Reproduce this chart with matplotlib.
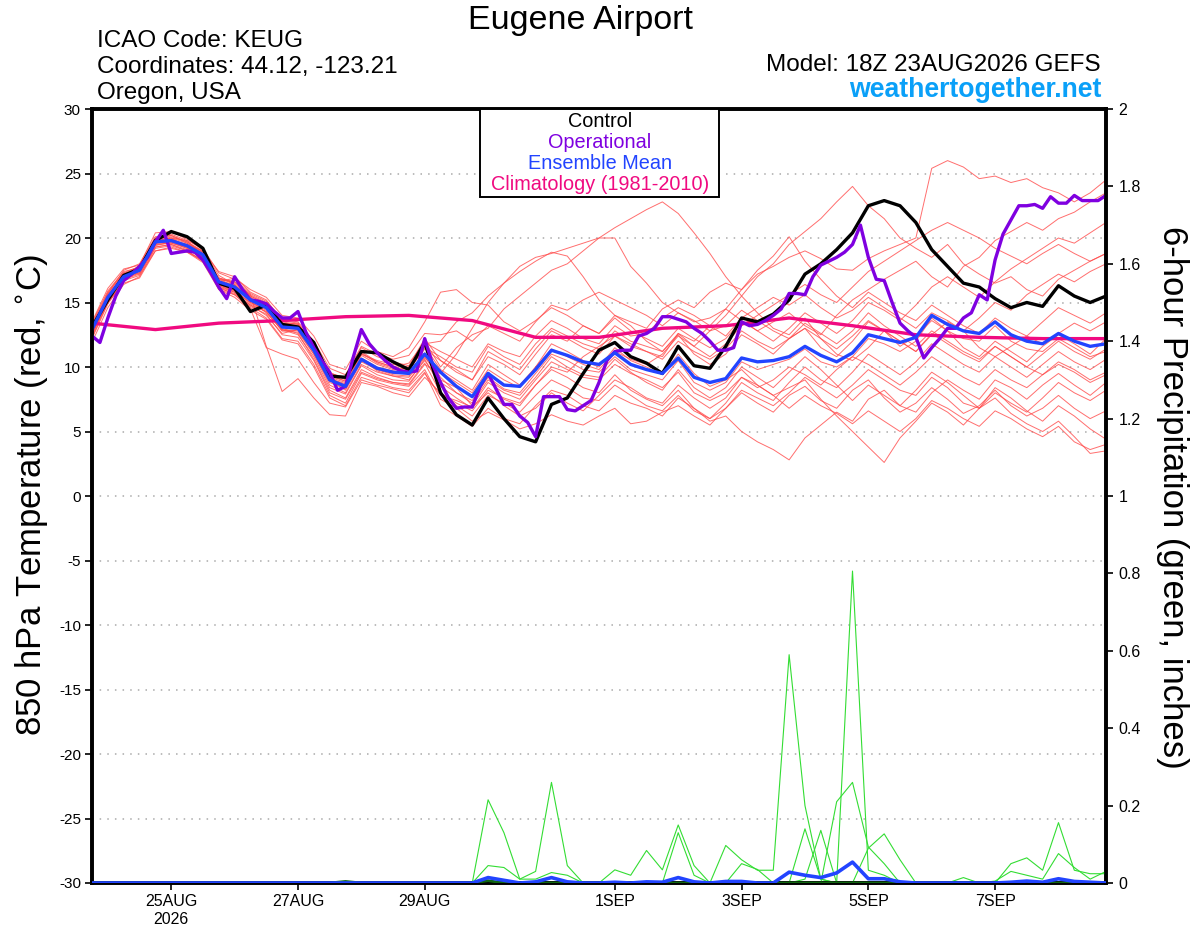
import numpy as np
import matplotlib
matplotlib.use('Agg')
import matplotlib.pyplot as plt
from matplotlib.patches import Rectangle

plt.rcParams['font.family'] = ['Liberation Sans', 'DejaVu Sans']

# ---------------- data ----------------
hours6 = np.arange(0, 385, 6)
hours3 = np.arange(0, 385, 3)
hours24 = np.arange(0, 385, 24)

control = [13.1, 15.2, 17.1, 17.6, 19.8, 20.5, 20.1, 19.2, 16.5, 16.1, 14.3, 14.8, 13.3, 13.1, 11.9, 9.3,
           9.2, 11.2, 11.1, 10.4, 9.8, 11.9, 8.0, 6.3, 5.5, 7.6, 6.0, 4.6, 4.2, 7.1, 7.6, 9.5,
           11.3, 11.9, 10.8, 10.3, 9.5, 11.6, 10.1, 9.9, 11.6, 13.8, 13.5, 14.1, 15.2, 17.2, 18.0, 19.1,
           20.4, 22.5, 22.9, 22.5, 21.2, 19.1, 17.8, 16.5, 16.2, 15.3, 14.6, 15.0, 14.7, 16.3, 15.5, 15.0, 15.5]

ens_mean = [12.9, 15.4, 17.0, 17.5, 19.7, 19.8, 19.4, 18.7, 16.6, 16.2, 15.2, 14.6, 13.1, 13.0, 11.3, 9.0,
            8.5, 10.6, 9.9, 9.6, 9.5, 11.0, 9.6, 8.5, 7.7, 9.5, 8.6, 8.5, 9.8, 11.3, 10.9, 10.4,
            10.2, 11.1, 10.2, 9.8, 9.5, 10.7, 9.2, 8.8, 9.1, 10.7, 10.4, 10.5, 10.8, 11.6, 10.9, 10.4,
            11.1, 12.5, 12.2, 11.9, 12.3, 14.0, 13.3, 12.8, 12.6, 13.5, 12.5, 12.0, 11.8, 12.6, 12.0, 11.6, 11.8]

operational = [12.4, 11.9, 13.8, 15.5, 16.7, 17.2, 17.8, 18.5, 19.7, 20.6, 18.8, 18.9, 19.0, 18.9, 18.3, 17.3,
               16.2, 15.3, 17.0, 16.0, 15.2, 15.1, 14.9, 14.3, 13.8, 13.8, 14.3, 12.7, 11.5, 10.5, 9.6, 8.2,
               8.5, 10.8, 12.9, 11.8, 11.1, 10.5, 10.0, 9.7, 9.6, 9.7, 12.2, 10.2, 8.8, 7.6, 6.8, 6.9,
               6.9, 8.5, 9.5, 8.3, 7.1, 7.1, 6.2, 5.7, 4.6, 7.7, 7.7, 7.7, 6.7, 6.6, 7.0, 7.4,
               8.8, 10.5, 11.2, 11.3, 11.3, 12.4, 12.6, 13.0, 13.9, 13.9, 13.7, 13.5, 13.0, 12.6, 12.0, 11.3,
               11.3, 11.5, 13.5, 13.2, 13.3, 13.6, 14.0, 14.5, 15.7, 15.7, 15.6, 17.0, 17.9, 18.2, 18.5, 18.9,
               19.5, 21.0, 18.5, 16.8, 16.7, 15.0, 13.4, 12.8, 12.3, 10.7, 11.5, 12.2, 13.0, 13.0, 13.8, 14.2,
               15.6, 15.2, 18.3, 20.3, 21.4, 22.5, 22.5, 22.6, 22.3, 23.2, 22.7, 22.7, 23.3, 22.9, 22.9, 22.9, 23.3]

climatology = [13.4, 12.9, 13.4, 13.6, 13.9, 14.0, 13.6, 12.3, 12.3, 13.0, 13.2, 13.8, 13.2, 12.5, 12.3, 12.2, 12.2]

member_01 = [12.6, 15.6, 17.2, 17.8, 19.9, 20.2, 19.6, 18.9, 16.9, 16.5, 15.5, 14.9, 13.5, 13.3, 11.8, 9.6, 9.0, 11.2, 10.4, 10.0, 9.8, 11.4,
             10.5, 9.6, 9.0, 10.8, 10.2, 9.4, 11.0, 12.5, 12.0, 13.2, 12.6, 14.0, 13.5, 13.0, 14.5, 15.2, 14.6, 15.8, 16.5, 16.0,
             17.2, 17.8, 18.5, 19.0, 18.4, 17.6, 17.5, 18.4, 19.0, 19.5, 20.0, 25.4, 26.0, 25.5, 24.6, 24.8, 24.3, 24.6, 23.9, 23.5,
             22.8, 23.5, 24.5]
member_02 = [13.1, 15.2, 16.8, 17.3, 19.5, 19.6, 19.2, 18.5, 16.4, 16.0, 14.9, 14.3, 12.8, 12.7, 11.0, 8.6, 8.0, 10.2, 9.6, 9.3, 9.2, 10.7,
             9.6, 8.8, 8.0, 9.8, 9.0, 8.4, 10.0, 11.4, 10.8, 10.2, 9.8, 11.2, 10.6, 10.2, 11.0, 12.4, 11.6, 12.8,
             14.0, 15.5, 17.0, 18.0, 19.5, 20.5, 21.5, 22.8, 24.0, 22.5, 21.5, 20.0, 19.2, 18.5, 19.5, 18.0, 17.2, 16.5, 17.0, 16.0,
             15.5, 16.8, 17.5, 18.2, 18.8]
member_03 = [12.2, 14.9, 16.6, 17.6, 20.0, 20.3, 19.8, 18.6, 16.0, 15.6, 14.8, 14.0, 12.6, 12.9, 11.2, 9.2, 8.8, 11.0, 10.5, 10.2, 10.0, 12.0,
             10.0, 11.5, 12.5, 13.0, 14.5, 15.5, 16.5, 17.5, 18.0, 19.0, 20.0, 20.8, 21.5, 22.2, 22.8, 21.9, 20.4, 18.8, 17.0, 15.5,
             14.2, 13.0, 12.5, 13.8, 12.2, 11.0, 10.5, 11.5, 12.8, 12.0, 11.2, 12.5, 13.5, 12.8, 11.5, 10.8, 11.6, 12.4, 11.8, 12.6,
             13.4, 12.8, 13.5]
member_04 = [13.4, 15.9, 17.4, 17.7, 19.4, 19.7, 19.5, 19.0, 17.4, 17.0, 15.8, 15.2, 13.6, 13.4, 11.5, 9.0, 8.2, 10.4, 9.8, 9.5, 9.8, 11.8,
             12.0, 13.5, 14.2, 15.5, 16.5, 17.8, 18.5, 18.8, 19.2, 19.6, 20.0, 20.0, 17.8, 16.5, 15.0, 14.2, 13.5, 13.8, 14.5, 13.6,
             12.8, 13.5, 14.2, 13.2, 12.5, 14.0, 15.2, 16.0, 16.8, 17.5, 18.2, 17.0, 16.2, 17.8, 18.5, 19.8, 20.5, 21.2, 20.6, 21.5,
             22.0, 22.8, 23.5]
member_05 = [12.8, 15.3, 17.1, 17.4, 19.8, 20.0, 19.3, 18.4, 16.3, 15.9, 15.0, 14.4, 13.0, 12.6, 10.6, 8.2, 7.6, 9.8, 9.2, 8.8, 8.6, 10.2,
             9.5, 11.0, 13.0, 15.0, 16.5, 17.4, 18.2, 18.9, 18.6, 17.0, 15.2, 14.0, 13.2, 12.0, 11.2, 12.5, 11.0, 10.2, 11.0, 12.5,
             11.8, 11.0, 12.2, 13.0, 11.5, 10.8, 12.0, 13.5, 12.8, 11.6, 12.4, 13.6, 12.8, 11.5, 10.8, 12.0, 11.2, 10.4, 11.6, 12.5,
             11.8, 11.0, 12.2]
member_06 = [11.9, 14.6, 16.4, 17.0, 19.2, 19.4, 19.0, 18.2, 16.2, 15.8, 14.6, 13.8, 12.2, 12.0, 10.2, 7.8, 7.2, 9.5, 9.0, 8.7, 8.5, 9.8,
             7.5, 6.8, 5.8, 6.5, 5.9, 5.2, 5.6, 6.3, 5.8, 5.5, 6.2, 6.8, 5.6, 5.8, 6.5, 7.0, 6.2, 5.5, 6.8, 8.0,
             7.2, 6.5, 7.8, 8.5, 7.4, 6.8, 8.2, 9.0, 7.6, 6.5, 7.2, 8.4, 7.5, 6.4, 7.0, 8.2, 7.0, 6.2, 6.8, 7.8,
             6.8, 6.0, 6.6]
member_07 = [13.0, 15.5, 17.0, 17.5, 19.6, 19.9, 19.5, 18.8, 16.7, 16.3, 15.3, 14.7, 13.2, 13.1, 11.4, 9.1, 8.6, 10.7, 10.0, 9.7, 9.6, 11.1,
             9.2, 8.0, 7.4, 9.2, 8.3, 8.0, 9.5, 11.0, 10.5, 9.8, 9.6, 10.8, 9.8, 9.4, 9.0, 10.5, 8.8, 8.2, 8.8, 10.4,
             9.8, 10.2, 10.6, 11.4, 10.4, 10.0, 10.8, 12.2, 11.8, 11.2, 12.0, 13.8, 12.8, 12.2, 12.0, 13.2, 12.0, 11.4, 11.2, 12.2,
             11.5, 10.8, 11.2]
member_08 = [12.5, 15.1, 16.9, 17.9, 20.4, 20.5, 19.9, 19.1, 17.1, 16.4, 15.1, 14.2, 12.9, 12.5, 10.8, 8.4, 7.9, 10.1, 9.4, 9.0, 8.9, 10.6,
             8.5, 7.6, 6.8, 8.4, 7.5, 7.0, 8.6, 9.8, 9.2, 8.4, 8.0, 9.4, 8.2, 7.5, 7.0, 8.2, 6.8, 5.8, 6.2, 5.0,
             4.2, 3.6, 2.8, 4.5, 5.5, 6.5, 5.8, 7.5, 8.2, 7.0, 6.5, 8.0, 9.0, 8.2, 7.5, 9.0, 8.4, 7.5, 8.6, 9.5,
             8.6, 7.8, 8.8]
member_09 = [13.3, 15.8, 17.3, 17.2, 19.3, 19.5, 19.1, 18.6, 16.8, 16.6, 15.6, 15.0, 13.4, 13.2, 11.6, 9.4, 8.9, 11.1, 10.3, 9.9, 9.7, 11.6,
             9.8, 9.0, 8.2, 10.2, 9.4, 8.6, 10.0, 11.8, 11.2, 10.5, 10.0, 11.5, 10.5, 10.0, 9.4, 11.0, 9.5, 8.5, 9.0, 9.8,
             8.6, 7.8, 8.4, 9.0, 7.5, 6.2, 5.0, 3.8, 2.6, 4.5, 5.8, 7.2, 6.5, 5.5, 6.8, 8.0, 7.2, 6.5, 7.6, 8.8,
             8.0, 7.4, 8.2]
member_10 = [12.7, 15.0, 16.7, 17.1, 19.0, 19.2, 18.9, 18.3, 16.1, 15.7, 14.7, 14.1, 12.5, 12.3, 10.5, 8.0, 7.5, 9.6, 9.1, 8.8, 8.7, 10.3,
             8.0, 7.0, 6.2, 7.8, 7.2, 6.5, 7.8, 9.0, 8.4, 7.6, 7.4, 8.6, 7.8, 7.0, 6.6, 7.8, 6.6, 6.0, 6.8, 8.2,
             7.6, 7.0, 8.0, 9.2, 8.4, 7.6, 8.6, 9.8, 9.0, 8.2, 7.8, 9.2, 8.4, 7.2, 6.8, 7.6, 6.4, 5.6, 5.0, 5.8,
             4.6, 3.3, 3.5]
member_11 = [13.0, 15.7, 17.5, 18.0, 20.1, 20.2, 19.7, 18.9, 16.5, 16.1, 15.4, 14.8, 13.3, 13.4, 11.7, 9.5, 9.2, 11.5, 10.8, 10.4, 10.1, 12.2,
             10.5, 9.8, 9.0, 11.2, 10.5, 9.8, 11.4, 12.8, 12.2, 11.5, 11.0, 12.4, 11.6, 11.2, 10.8, 12.6, 12.0, 13.2, 14.5, 16.0,
             17.5, 18.6, 20.1, 18.2, 16.8, 15.5, 14.6, 15.8, 15.0, 14.2, 13.6, 14.8, 14.0, 13.2, 12.6, 13.8, 13.0, 12.4, 13.5, 14.6,
             14.0, 13.4, 14.2]
member_12 = [12.4, 15.4, 17.2, 17.6, 19.7, 19.9, 19.3, 18.5, 16.6, 16.9, 16.0, 15.4, 14.0, 13.8, 12.4, 10.2, 9.8, 12.0, 11.2, 10.8, 11.5, 13.5,
             15.8, 16.0, 15.0, 14.8, 13.5, 12.8, 13.6, 14.6, 14.0, 13.2, 12.6, 13.8, 12.8, 12.2, 11.6, 13.0, 12.2, 11.5, 12.2, 13.6,
             12.8, 12.0, 13.0, 14.2, 13.4, 12.6, 13.6, 15.0, 14.4, 13.6, 14.8, 16.2, 17.0, 16.2, 15.4, 16.6, 17.6, 18.4, 19.2, 20.0,
             19.6, 20.4, 21.2]
member_13 = [13.2, 15.6, 17.0, 17.3, 19.5, 19.6, 19.3, 18.6, 16.4, 15.9, 15.0, 14.5, 12.9, 12.8, 11.0, 8.8, 8.3, 10.5, 9.8, 9.4, 9.3, 10.8,
             9.0, 8.4, 7.0, 8.8, 8.0, 7.5, 9.0, 10.4, 9.8, 9.2, 9.0, 10.2, 9.5, 9.0, 8.4, 9.6, 8.0, 7.4, 8.0, 9.2,
             8.4, 9.0, 10.0, 9.4, 8.6, 9.8, 10.8, 10.2, 9.4, 8.6, 9.6, 10.8, 10.0, 9.2, 8.6, 9.8, 9.0, 8.4, 9.4, 10.4,
             9.8, 9.0, 9.6]
member_14 = [12.9, 15.3, 16.9, 17.7, 19.9, 20.0, 19.6, 18.8, 16.9, 16.4, 15.3, 14.6, 13.1, 13.0, 11.3, 9.1, 8.7, 10.9, 10.2, 9.8, 9.9, 11.5,
             10.8, 10.0, 9.6, 11.6, 10.8, 10.2, 11.8, 13.0, 12.4, 11.8, 11.4, 12.8, 12.0, 11.6, 11.2, 12.6, 11.6, 10.8, 11.8, 13.2,
             14.0, 14.8, 15.6, 16.4, 15.6, 15.0, 16.2, 17.4, 18.2, 19.0, 19.8, 20.6, 21.2, 20.6, 20.0, 19.2, 18.6, 18.0, 18.8, 19.5,
             18.8, 18.2, 18.8]
member_15 = [12.3, 15.0, 16.8, 17.4, 19.6, 19.7, 19.2, 18.3, 16.3, 15.8, 14.8, 14.3, 12.8, 12.9, 11.2, 8.9, 8.4, 10.6, 9.7, 9.3, 9.0, 10.5,
             8.8, 8.0, 7.2, 9.0, 8.2, 7.8, 9.2, 10.8, 10.0, 9.4, 9.2, 10.6, 9.6, 8.8, 8.2, 9.8, 8.4, 7.6, 8.4, 10.0,
             9.2, 8.4, 9.6, 10.8, 9.8, 8.6, 7.4, 8.6, 7.8, 7.0, 8.2, 9.6, 8.8, 7.8, 6.8, 8.4, 7.6, 6.6, 5.8, 7.0,
             6.2, 5.2, 4.4]
member_16 = [13.5, 16.1, 17.6, 17.9, 19.8, 20.0, 19.8, 19.2, 17.3, 16.8, 15.7, 15.1, 13.7, 13.5, 12.0, 9.9, 9.4, 11.6, 11.0, 10.6, 10.9, 12.6,
             12.5, 12.8, 12.0, 13.2, 12.6, 12.0, 13.5, 14.8, 14.4, 15.2, 15.8, 15.2, 14.6, 14.0, 13.2, 14.2, 13.6, 12.8, 13.2, 14.4,
             13.6, 12.8, 12.2, 13.4, 12.6, 11.8, 12.8, 14.2, 13.2, 12.4, 11.6, 12.8, 12.0, 11.2, 10.6, 11.6, 10.8, 10.0, 9.4, 10.2,
             9.6, 8.8, 9.4]
member_17 = [12.6, 15.0, 16.5, 16.9, 19.0, 19.3, 18.9, 18.1, 16.0, 15.4, 14.4, 13.7, 12.1, 11.8, 10.0, 7.6, 7.0, 9.2, 8.8, 8.4, 8.2, 9.6,
             7.0, 6.2, 5.4, 6.8, 6.0, 5.6, 7.0, 8.2, 7.8, 7.0, 6.6, 7.8, 7.2, 6.8, 6.2, 7.6, 6.8, 6.0, 7.2, 8.8,
             8.0, 7.4, 8.8, 10.0, 9.0, 8.4, 9.6, 11.0, 10.2, 9.4, 10.4, 11.8, 11.0, 10.2, 9.6, 10.8, 10.0, 9.2, 10.2, 11.2,
             10.4, 9.8, 10.6]
member_18 = [12.6, 15.2, 16.9, 17.6, 19.6, 19.7, 19.3, 18.5, 16.9, 16.6, 15.6, 11.6, 8.1, 9.1, 7.6, 6.3, 6.2, 8.8, 8.5, 8.0, 7.7, 9.2,
             8.0, 7.2, 6.6, 8.2, 7.6, 7.2, 8.6, 10.0, 9.6, 10.8, 11.6, 12.4, 11.8, 11.2, 10.6, 12.0, 11.2, 10.6, 11.4, 12.8,
             12.0, 11.4, 12.2, 13.0, 12.2, 11.4, 12.4, 13.6, 12.8, 12.0, 11.2, 12.6, 11.8, 11.0, 10.4, 11.6, 10.8, 10.0, 11.0, 12.0,
             11.2, 10.6, 11.4]
member_19 = [13.1, 15.7, 17.3, 17.8, 20.0, 20.1, 19.7, 19.0, 16.8, 16.3, 15.5, 14.9, 13.4, 13.3, 11.6, 9.3, 8.9, 11.0, 10.4, 10.0, 10.3, 11.9,
             11.2, 10.6, 10.0, 11.8, 11.2, 10.8, 12.4, 13.6, 13.0, 12.2, 11.8, 13.2, 12.4, 12.6, 13.8, 14.6, 14.0, 13.2, 12.4, 13.8,
             14.6, 15.4, 14.8, 15.6, 14.6, 13.8, 14.4, 15.4, 14.6, 13.8, 13.0, 14.2, 13.6, 12.8, 13.8, 15.0, 14.4, 15.6, 16.4, 17.2,
             16.6, 17.4, 18.0]
member_20 = [12.7, 15.2, 16.8, 17.2, 19.3, 19.5, 19.0, 18.2, 16.2, 15.6, 14.5, 11.5, 11.0, 10.6, 8.8, 7.2, 6.9, 9.0, 8.6, 8.3, 8.0, 9.5,
             7.8, 7.4, 6.9, 8.0, 7.0, 6.2, 6.8, 8.0, 7.2, 6.6, 7.8, 9.0, 8.4, 7.6, 7.2, 8.6, 7.6, 6.8, 7.6, 9.2,
             8.6, 7.8, 6.8, 7.8, 7.0, 6.4, 5.6, 6.6, 5.8, 5.0, 6.0, 7.4, 6.8, 6.0, 5.4, 6.6, 6.0, 5.2, 4.6, 5.4,
             4.2, 3.6, 4.0]
members = [member_01, member_02, member_03, member_04, member_05, member_06, member_07, member_08, member_09, member_10,
           member_11, member_12, member_13, member_14, member_15, member_16, member_17, member_18, member_19, member_20]

# 6-hour precipitation (inches), given as {6h step index: value}; all other steps are 0
precip_members = [
    {24: 0.0, 25: 0.215, 26: 0.13, 27: 0.01, 28: 0.03, 29: 0.26, 30: 0.045, 31: 0.0},
    {24: 0.0, 25: 0.045, 26: 0.04, 27: 0.01, 28: 0.01, 29: 0.027, 30: 0.02, 31: 0.0},
    {32: 0.0, 33: 0.034, 34: 0.02, 35: 0.084, 36: 0.034, 37: 0.15, 38: 0.045, 39: 0.0},
    {36: 0.0, 37: 0.13, 38: 0.02, 39: 0.0, 40: 0.097, 41: 0.06, 42: 0.033, 43: 0.033, 44: 0.59, 45: 0.2, 46: 0.01, 47: 0.0},
    {40: 0.0, 41: 0.05, 42: 0.035, 43: 0.0, 44: 0.0, 45: 0.14, 46: 0.01, 47: 0.0},
    {44: 0.0, 45: 0.01, 46: 0.136, 47: 0.0},
    {46: 0.0, 47: 0.0, 48: 0.806, 49: 0.033, 50: 0.02, 51: 0.0},
    {46: 0.0, 47: 0.21, 48: 0.26, 49: 0.093, 50: 0.05, 51: 0.0},
    {48: 0.0, 49: 0.09, 50: 0.127, 51: 0.06, 52: 0.0, 54: 0.0, 55: 0.014, 56: 0.0},
    {57: 0.0, 58: 0.05, 59: 0.065, 60: 0.033, 61: 0.156, 62: 0.033, 63: 0.024, 64: 0.024},
    {57: 0.005, 58: 0.03, 59: 0.02, 60: 0.01, 61: 0.076, 62: 0.04, 63: 0.01, 64: 0.03},
]
precip_mean = {25: 0.014, 26: 0.007, 28: 0.003, 29: 0.014, 30: 0.003, 33: 0.002, 35: 0.003, 36: 0.002,
               37: 0.014, 38: 0.003, 40: 0.004, 41: 0.004, 44: 0.028, 45: 0.02, 46: 0.014, 47: 0.026,
               48: 0.054, 49: 0.011, 50: 0.011, 51: 0.003, 58: 0.002, 59: 0.005, 60: 0.002, 61: 0.011,
               62: 0.004, 63: 0.002}
precip_control = {16: 0.004, 25: 0.006}

tick_hours = [30, 78, 126, 198, 246, 294, 342]
tick_labels = ['25AUG\n2026', '27AUG', '29AUG', '1SEP', '3SEP', '5SEP', '7SEP']
temp_ticks = list(range(-30, 31, 5))
precip_ticks = [0, 0.2, 0.4, 0.6, 0.8, 1.0, 1.2, 1.4, 1.6, 1.8, 2.0]
precip_tick_labels = ['0', '0.2', '0.4', '0.6', '0.8', '1', '1.2', '1.4', '1.6', '1.8', '2']

# ---------------- colours ----------------
C_MEMBER = '#ff4a4a'
C_PRECIP = '#33dd33'
C_CONTROL = '#000000'
C_OPER = '#7f00e0'
C_MEAN = '#2244ff'
C_CLIM = '#f00a80'
C_SITE = '#0aa0f8'

def sparse_series(d, n):
    arr = np.zeros(n)
    for k, v in d.items():
        arr[k] = v
    return arr

# ---------------- figure ----------------
W, H = 1200, 927
fig = plt.figure(figsize=(W / 100, H / 100), dpi=100)
L, R, T, B = 92, 1106, 109, 883
ax = fig.add_axes([L / W, 1 - B / H, (R - L) / W, (B - T) / H])
ax.set_xlim(0, 384)
ax.set_ylim(-30, 30)

for v in range(-25, 30, 5):
    ax.axhline(v, color='#aaaaaa', lw=1.1, ls=(0, (1, 4)), zorder=0)

for m in members:
    ax.plot(hours6, m, color=C_MEMBER, lw=0.7, alpha=0.8, zorder=2)

ax.plot(hours24, climatology, color=C_CLIM, lw=2.4, zorder=4)
ax.plot(hours6, control, color=C_CONTROL, lw=2.4, zorder=5)
ax.plot(hours3, operational, color=C_OPER, lw=2.4, zorder=6)
ax.plot(hours6, ens_mean, color=C_MEAN, lw=2.4, zorder=7)

ax.set_xticks(tick_hours)
ax.set_xticklabels(tick_labels)
ax.set_yticks(temp_ticks)
ax.set_yticklabels([str(t) for t in temp_ticks])
ax.tick_params(axis='both', direction='out', length=5, width=1.2, labelsize=11.5, pad=3)
ax.tick_params(axis='y', labelsize=11)

ax2 = ax.twinx()
ax2.set_ylim(0, 2)
n6 = len(hours6)
for d in precip_members:
    ax2.plot(hours6, sparse_series(d, n6), color=C_PRECIP, lw=0.8, zorder=2)
ax2.plot(hours6, sparse_series(precip_control, n6), color='#116611', lw=2.0, zorder=3)
ax2.plot(hours6, sparse_series(precip_mean, n6), color=C_MEAN, lw=2.6, zorder=4)
ax2.set_yticks(precip_ticks)
ax2.set_yticklabels(precip_tick_labels)
ax2.tick_params(axis='y', direction='out', length=5, width=1.2, labelsize=11.5, pad=4)

for a in (ax, ax2):
    for s in a.spines.values():
        s.set_linewidth(2.6)
        s.set_color('black')

# legend box
bx0, bx1, by0, by1 = 480, 719, 109, 197
ax2.add_patch(Rectangle(((bx0 - L) / (R - L), 1 - (by1 - T) / (B - T)),
                        (bx1 - bx0) / (R - L), (by1 - by0) / (B - T),
                        transform=ax2.transAxes, facecolor='white', edgecolor='black',
                        lw=1.4, zorder=20, clip_on=False))
legend_items = [('Control', C_CONTROL), ('Operational', C_OPER),
                ('Ensemble Mean', C_MEAN), ('Climatology (1981-2010)', C_CLIM)]
for k, (txt, col) in enumerate(legend_items):
    yc = 121 + 21.3 * k
    ax2.text((600 - L) / (R - L), 1 - (yc - T) / (B - T), txt, color=col, fontsize=14.3,
             ha='center', va='center', transform=ax2.transAxes, zorder=21)

# header texts
fig.text(581 / W, 1 - 29 / H, 'Eugene Airport', ha='center', va='baseline', fontsize=24.5)
fig.text(97 / W, 1 - 47 / H, 'ICAO Code: KEUG', ha='left', va='baseline', fontsize=17.5)
fig.text(97 / W, 1 - 73 / H, 'Coordinates: 44.12, -123.21', ha='left', va='baseline', fontsize=17.5)
fig.text(97 / W, 1 - 99 / H, 'Oregon, USA', ha='left', va='baseline', fontsize=17.5)
fig.text(1101 / W, 1 - 71 / H, 'Model: 18Z 23AUG2026 GEFS', ha='right', va='baseline', fontsize=17.5)
fig.text(1101 / W, 1 - 97 / H, 'weathertogether.net', ha='right', va='baseline', fontsize=19.2,
         fontweight='bold', color=C_SITE)

fig.text(32 / W, 1 - 495 / H, '850 hPa Temperature (red, $^{\\circ}$C)', rotation=90,
         ha='center', va='center', fontsize=25)
fig.text(1172 / W, 1 - 497 / H, '6-hour Precipitation (green, inches)', rotation=270,
         ha='center', va='center', fontsize=25)

fig.savefig('out.png', dpi=100)
